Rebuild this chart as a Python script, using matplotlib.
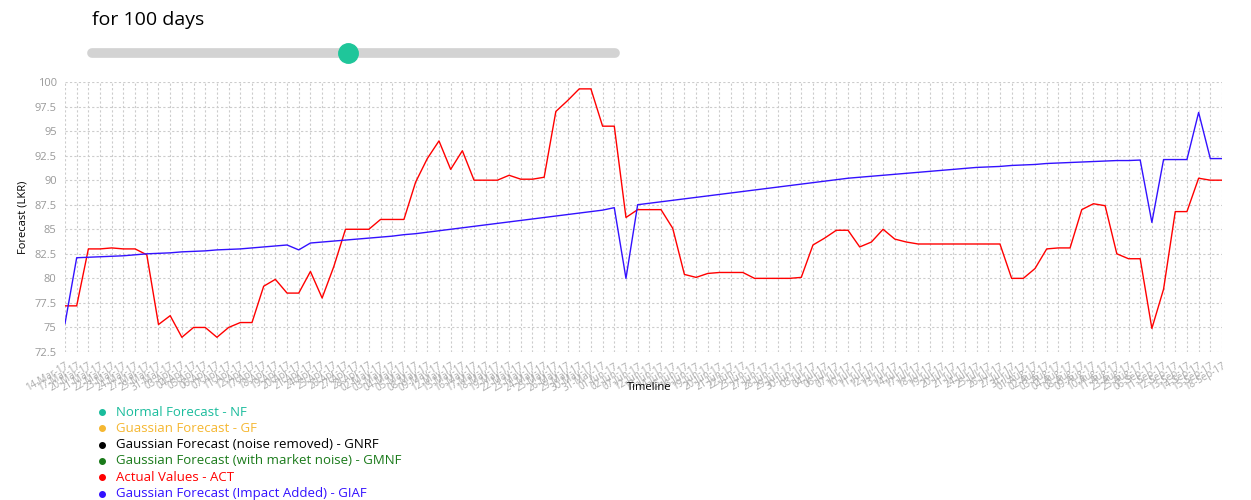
import matplotlib.pyplot as plt
from matplotlib.lines import Line2D

plt.rcParams['font.family'] = ['Open Sans', 'DejaVu Sans']

# trading dates (labels)
mar = ['14', '17', '20', '21', '22', '23', '24', '27', '29', '31']
apr = ['03', '04', '05', '06', '07', '11', '12', '17', '18', '19', '20', '21', '24', '25', '26', '27', '28']
may = ['02', '03', '04', '05', '08', '09', '12', '15', '16', '17', '18', '19', '22', '23', '24', '25', '26', '29', '30', '31']
jun = ['01', '02', '07', '12', '13', '14', '15', '16', '19', '20', '21', '22', '23', '27', '28', '29', '30']
jul = ['03', '04', '06', '07', '10', '11', '12', '13', '14', '17', '18', '19', '20', '21', '24', '25', '26', '27', '31']
aug = ['01', '02', '03', '04', '08', '09', '10', '11', '23', '25']
sep = ['06', '11', '12', '13', '14', '15', '18']
dates = ([d + '-Mar-17' for d in mar] + [d + '-Apr-17' for d in apr] + [d + '-May-17' for d in may]
         + [d + '-Jun-17' for d in jun] + [d + '-Jul-17' for d in jul] + [d + '-Aug-17' for d in aug]
         + [d + '-Sep-17' for d in sep])

actual = [77.2, 77.2, 83.0, 83.0, 83.1, 83.0, 83.0, 82.4, 75.3, 76.2,
          74.0, 75.0, 75.0, 74.0, 75.0, 75.5, 75.5, 79.2, 79.9, 78.5,
          78.5, 80.7, 78.0, 81.2, 85.0, 85.0, 85.0, 86.0, 86.0, 86.0,
          89.8, 92.2, 94.0, 91.1, 93.0, 90.0, 90.0, 90.0, 90.5, 90.1,
          90.1, 90.3, 97.0, 98.1, 99.3, 99.3, 95.5, 95.5, 86.2, 87.0,
          87.0, 87.0, 85.1, 80.4, 80.1, 80.5, 80.6, 80.6, 80.6, 80.0,
          80.0, 80.0, 80.0, 80.1, 83.4, 84.1, 84.9, 84.9, 83.2, 83.7,
          85.0, 84.0, 83.7, 83.5, 83.5, 83.5, 83.5, 83.5, 83.5, 83.5,
          83.5, 80.0, 80.0, 81.0, 83.0, 83.1, 83.1, 87.0, 87.6, 87.4,
          82.5, 82.0, 82.0, 74.9, 78.9, 86.8, 86.8, 90.2, 90.0, 90.0]

impact = [75.4, 82.1, 82.15, 82.2, 82.25, 82.3, 82.4, 82.5, 82.55, 82.6,
          82.7, 82.75, 82.8, 82.9, 82.95, 83.0, 83.1, 83.2, 83.3, 83.4,
          82.9, 83.6, 83.7, 83.8, 83.9, 84.0, 84.1, 84.2, 84.3, 84.45,
          84.55, 84.7, 84.85, 85.0, 85.15, 85.3, 85.45, 85.6, 85.75, 85.9,
          86.05, 86.2, 86.35, 86.5, 86.65, 86.8, 86.95, 87.2, 80.0, 87.5,
          87.65, 87.8, 87.95, 88.1, 88.25, 88.4, 88.55, 88.7, 88.85, 89.0,
          89.15, 89.3, 89.45, 89.6, 89.75, 89.9, 90.05, 90.2, 90.3, 90.4,
          90.5, 90.6, 90.7, 90.8, 90.9, 91.0, 91.1, 91.2, 91.3, 91.35,
          91.4, 91.5, 91.55, 91.6, 91.7, 91.75, 91.8, 91.85, 91.9, 91.95,
          92.0, 92.0, 92.05, 85.7, 92.1, 92.1, 92.1, 96.9, 92.2, 92.2]

yticks = [72.5, 75, 77.5, 80, 82.5, 85, 87.5, 90, 92.5, 95, 97.5, 100]

legend_items = [('Normal Forecast - NF', '#1abc9c'),
                ('Guassian Forecast - GF', '#f5b731'),
                ('Gaussian Forecast (noise removed) - GNRF', '#000000'),
                ('Gaussian Forecast (with market noise) - GMNF', '#1a7a1a'),
                ('Actual Values - ACT', '#ff0000'),
                ('Gaussian Forecast (Impact Added) - GIAF', '#3311ff')]

fig = plt.figure(figsize=(12.51, 5.0), dpi=100)
ax = fig.add_axes([65 / 1251, 1 - 352 / 500, (1222 - 65) / 1251, 270 / 500])
x = list(range(len(dates)))
ax.plot(x, actual, color='#ff0000', lw=1)
ax.plot(x, impact, color='#3311ff', lw=1)
ax.set_xlim(0, len(dates) - 1)
ax.set_ylim(72.5, 100)
ax.set_yticks(yticks)
ax.set_yticklabels([f'{v:g}' for v in yticks], color='#999999', fontsize=8)
ax.set_xticks(x)
ax.set_xticklabels(dates, rotation=30, ha='right', rotation_mode='anchor', color='#aaaaaa', fontsize=7)
ax.tick_params(length=0, pad=6)
ax.grid(True, color='#cccccc', linestyle=(0, (2, 2)), lw=0.8)
for s in ax.spines.values():
    s.set_visible(False)
ax.set_ylabel('Forecast (LKR)', fontsize=8)
ax.set_xlabel('Timeline', fontsize=8)
ax.xaxis.set_label_coords(0.505, -0.11)

# title and slider
fig.text(92 / 1251, 1 - 20 / 500, 'for 100 days', fontsize=14, va='center')
fig.add_artist(Line2D([92 / 1251, 615 / 1251], [1 - 53 / 500] * 2, color='#d3d3d3', lw=7, solid_capstyle='round'))
fig.add_artist(Line2D([348 / 1251], [1 - 53 / 500], marker='o', markersize=14, color='#1fc69a'))

# legend
for k, (label, col) in enumerate(legend_items):
    yy = 1 - (412 + k * 16.3) / 500
    fig.add_artist(Line2D([102 / 1251], [yy], marker='o', markersize=4, color=col))
    fig.text(116 / 1251, yy, label, color=col, fontsize=9.5, va='center')

fig.savefig('out.png')
